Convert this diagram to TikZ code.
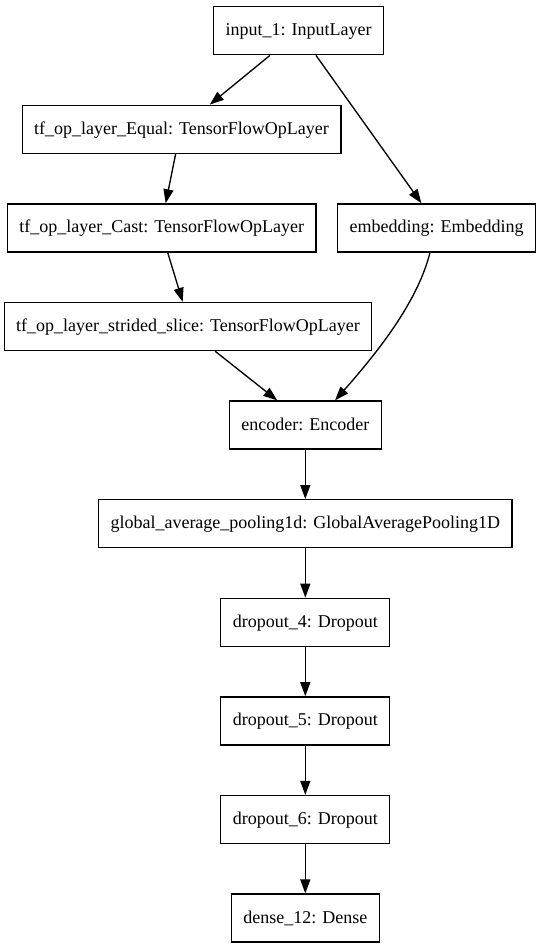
\documentclass[tikz,border=0pt]{standalone}
\usepackage{fontspec}
\setmainfont{Liberation Serif}
\usetikzlibrary{arrows.meta}
\begin{document}
\begin{tikzpicture}[x=0.75pt,y=-0.75pt,
  box/.style={draw=black,line width=1pt,rectangle,inner xsep=9pt,inner ysep=0pt,
    minimum height=36pt,text height=10pt,text depth=2.5pt,
    font=\fontsize{13.5pt}{16pt}\selectfont},
  edge/.style={line width=1pt,-{Triangle[length=10.5pt,width=7.5pt]}}]
\useasboundingbox (0,0) rectangle (541,949);
\node[box] (in) at (298.5,30.7) {input\_1: InputLayer};
\node[box] (eq) at (181.5,129.3) {tf\_op\_layer\_Equal: TensorFlowOpLayer};
\node[box] (cast) at (161.7,227.9) {tf\_op\_layer\_Cast: TensorFlowOpLayer};
\node[box] (emb) at (436.5,227.9) {embedding: Embedding};
\node[box] (ss) at (188,326.5) {tf\_op\_layer\_strided\_slice: TensorFlowOpLayer};
\node[box] (enc) at (305.3,425.1) {encoder: Encoder};
\node[box] (gap) at (305.3,523.7) {global\_average\_pooling1d: GlobalAveragePooling1D};
\node[box] (d4) at (305.3,622.3) {dropout\_4: Dropout};
\node[box] (d5) at (305.3,720.9) {dropout\_5: Dropout};
\node[box] (d6) at (305.3,819.5) {dropout\_6: Dropout};
\node[box] (dense) at (305.3,918.1) {dense\_12: Dense};
\draw[edge] ([xshift=-21.4pt]in.south) -- ([xshift=21.2pt]eq.north);
\draw[edge] ([xshift=13.1pt]in.south) -- ([xshift=-11.3pt]emb.north);
\draw[edge] ([xshift=-4.4pt]eq.south) -- ([xshift=3pt]cast.north);
\draw[edge] ([xshift=4.5pt]cast.south) -- ([xshift=-4pt]ss.north);
\draw[edge] ([xshift=20.3pt]ss.south) -- ([xshift=-21pt]enc.north);
\draw[edge] ([xshift=-4.9pt]emb.south) .. controls +(-12,48) and +(45,-51) .. ([xshift=22.3pt]enc.north);
\draw[edge] (enc) -- (gap);
\draw[edge] (gap) -- (d4);
\draw[edge] (d4) -- (d5);
\draw[edge] (d5) -- (d6);
\draw[edge] (d6) -- (dense);
\end{tikzpicture}
\end{document}
